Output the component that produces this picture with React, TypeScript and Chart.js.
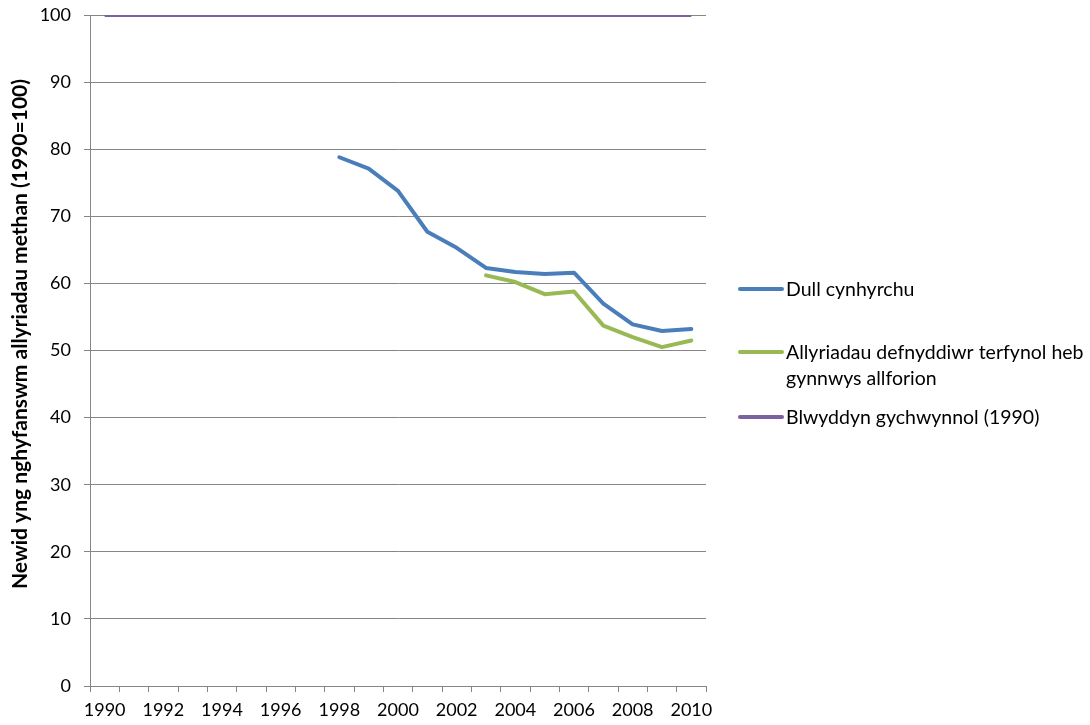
import React, { useEffect, useRef } from "react";
import { Chart, registerables } from "chart.js";
Chart.register(...registerables);

const years = ["1990","1991","1992","1993","1994","1995","1996","1997","1998","1999","2000","2001","2002","2003","2004","2005","2006","2007","2008","2009","2010"];
const productionBased = [null,null,null,null,null,null,null,null,78.8,77.1,73.8,67.7,65.3,62.3,61.7,61.4,61.6,57.0,53.9,52.9,53.2];
const consumptionBased = [null,null,null,null,null,null,null,null,null,null,null,null,null,61.2,60.2,58.4,58.8,53.7,52.0,50.5,51.5];
const baseYear = [100,100,100,100,100,100,100,100,100,100,100,100,100,100,100,100,100,100,100,100,100];
const seriesNames = [["Dull cynhyrchu"], ["Allyriadau defnyddiwr terfynol heb", "gynnwys allforion"], ["Blwyddyn gychwynnol (1990)"]];
const yTitle = "Newid yng nghyfanswm allyriadau methan (1990=100)";

const FONT = "Lato, 'Open Sans', sans-serif";
const GRID = "#868686";

const legendPlugin = {
  id: "sideLegend",
  afterDraw(chart: any) {
    const ctx = chart.ctx;
    const ys = [289, 352, 417];
    const x0 = chart.chartArea.right + 34;
    ctx.save();
    ctx.font = `19.5px ${FONT}`;
    ctx.textBaseline = "middle";
    ctx.textAlign = "left";
    chart.data.datasets.forEach((ds: any, i: number) => {
      const y = ys[i];
      ctx.strokeStyle = ds.borderColor;
      ctx.lineWidth = 4;
      ctx.lineCap = "round";
      ctx.beginPath();
      ctx.moveTo(x0, y);
      ctx.lineTo(x0 + 42, y);
      ctx.stroke();
      ctx.fillStyle = "#000";
      seriesNames[i].forEach((t, j) => ctx.fillText(t, x0 + 46, y + 1 + j * 26));
    });
    // y-axis title
    ctx.translate(20, 334);
    ctx.rotate(-Math.PI / 2);
    ctx.font = `bold 21px ${FONT}`;
    ctx.textAlign = "center";
    ctx.fillText(yTitle, 0, 0);
    ctx.restore();
  },
};

export default function App() {
  const ref = useRef<HTMLCanvasElement>(null);
  useEffect(() => {
    document.body.style.margin = "0";
    const chart = new Chart(ref.current!, {
      type: "line",
      data: {
        labels: years,
        datasets: [
          { label: seriesNames[0].join(" "), data: productionBased, borderColor: "#4A7EBB", backgroundColor: "#4A7EBB", borderWidth: 4, pointRadius: 0, tension: 0, borderCapStyle: "round", borderJoinStyle: "round" },
          { label: seriesNames[1].join(" "), data: consumptionBased, borderColor: "#98B954", backgroundColor: "#98B954", borderWidth: 4, pointRadius: 0, tension: 0, borderCapStyle: "round", borderJoinStyle: "round" },
          { label: seriesNames[2].join(" "), data: baseYear, borderColor: "#7D60A0", backgroundColor: "#7D60A0", borderWidth: 4, pointRadius: 0, tension: 0, borderCapStyle: "butt" },
        ],
      },
      options: {
        responsive: false,
        animation: false,
        layout: { padding: { top: 15, right: 384, left: 0, bottom: 0 } },
        plugins: { legend: { display: false }, tooltip: { enabled: false } },
        scales: {
          x: {
            offset: true,
            grid: { display: true, drawOnChartArea: false, drawTicks: true, tickLength: 6, color: GRID, offset: true },
            border: { color: GRID, width: 1 },
            ticks: {
              autoSkip: false, maxRotation: 0, minRotation: 0, padding: 7, color: "#000",
              font: { family: FONT, size: 18 },
              callback: (_v: any, i: number) => (i % 2 === 0 ? years[i] : ""),
            },
            afterFit: (s: any) => { s.height = 39; s.paddingLeft = 0; s.paddingRight = 0; },
          },
          y: {
            min: 0, max: 100,
            ticks: { stepSize: 10, padding: 13, color: "#000", font: { family: FONT, size: 18 } },
            grid: { color: GRID, tickLength: 6, lineWidth: 1 },
            border: { color: GRID, width: 1 },
            title: { display: false },
            afterFit: (s: any) => { s.width = 90; s.paddingTop = 0; s.paddingBottom = 0; },
          },
        },
      },
      plugins: [legendPlugin],
    } as any);
    return () => chart.destroy();
  }, []);
  return <canvas ref={ref} width={1090} height={725} style={{ display: "block" }} />;
}
